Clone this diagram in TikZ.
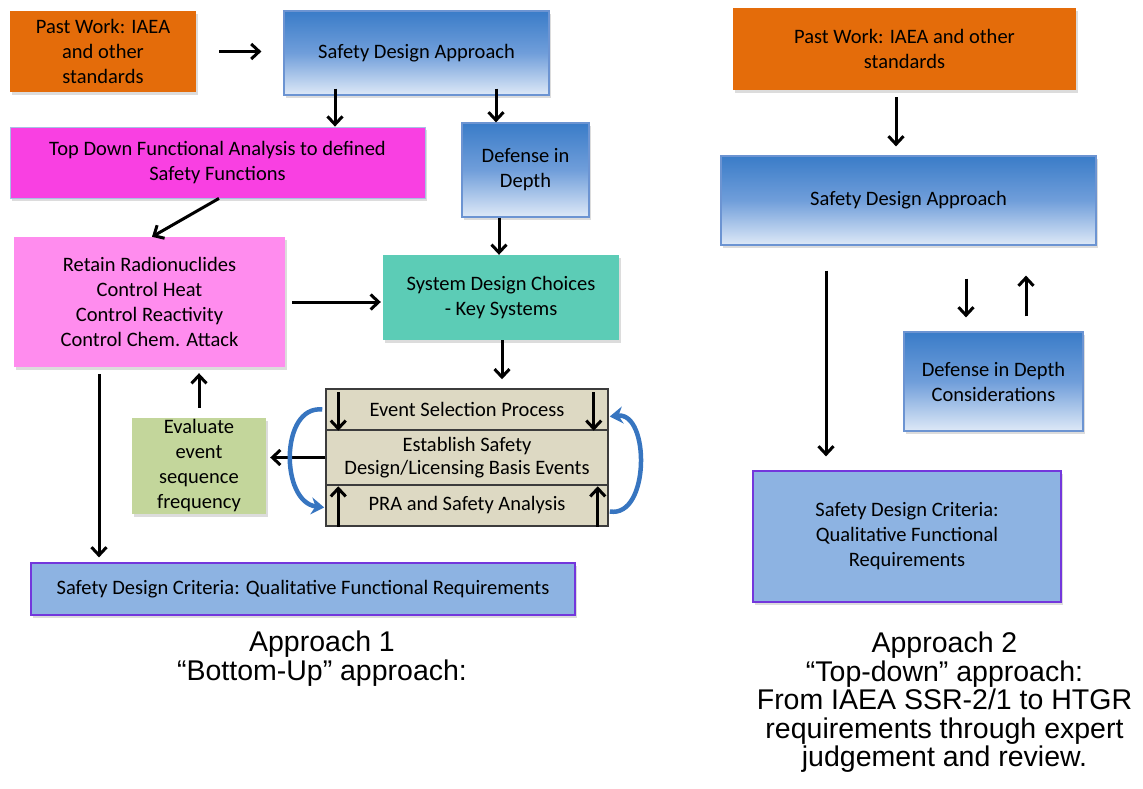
\documentclass[tikz,border=0pt]{standalone}
\usepackage{fontspec}
\setmainfont{Carlito}
\newfontfamily\capfont{Liberation Sans}
\usetikzlibrary{arrows.meta,calc,positioning,shadows}
\definecolor{pastor}{RGB}{228,108,10}
\definecolor{sdadark}{RGB}{58,124,200}
\definecolor{sdamid}{RGB}{112,158,218}
\definecolor{sdalight}{RGB}{222,233,247}
\definecolor{sdaedge}{RGB}{108,148,210}
\definecolor{tdmag}{RGB}{249,64,226}
\definecolor{retpink}{RGB}{255,140,238}
\definecolor{systeal}{RGB}{92,204,182}
\definecolor{evtan}{RGB}{221,217,195}
\definecolor{evedge}{RGB}{60,60,60}
\definecolor{evgreen}{RGB}{195,214,155}
\definecolor{critblue}{RGB}{141,179,226}
\definecolor{critedge}{RGB}{115,55,220}
\definecolor{cycblue}{RGB}{55,117,192}
\tikzset{
  box/.style={align=center,inner sep=0pt,font=\fontsize{20.5}{25}\selectfont,
    drop shadow={opacity=0.28,shadow xshift=2pt,shadow yshift=-3pt}},
  flat/.style={box,fill=#1},
  grad/.style={box,top color=sdadark,bottom color=sdalight,middle color=sdamid,
    draw=sdaedge,line width=1.2pt},
  crit/.style={box,fill=critblue,draw=critedge,line width=1.2pt},
  evrow/.style={align=center,inner sep=0pt,font=\fontsize{20.5}{23}\selectfont,
    fill=evtan,draw=evedge,line width=1.5pt,minimum width=282pt},
  arr/.style={line width=3pt,-{Straight Barb[length=8pt,width=15pt]}},
  cycarrow/.style={cycblue,line width=4.5pt,-{Stealth[length=13pt,width=17pt]}},
  caption/.style={align=center,inner sep=0pt,font=\capfont\fontsize{28.5}{28.5}\selectfont},
}
\begin{document}
\begin{tikzpicture}[x=1pt,y=-1pt]
    \useasboundingbox (0,0) rectangle (1143,789);
    % ---------- left: approach 1, bottom-up ----------
    \node[flat=pastor,minimum width=186,minimum height=81] (past1) at (103,51.5)
      {Past Work: IAEA\\and other\\standards};
    \node[grad,minimum width=265,minimum height=84] (sda1) at (416.5,53) {Safety Design Approach};
    \node[flat=tdmag,draw=sdaedge!60,line width=0.8pt,minimum width=415,minimum height=71] (tdfa) at (217.5,162.5)
      {Top Down Functional Analysis to defined\\Safety Functions};
    \node[grad,minimum width=127,minimum height=94] (did1) at (525.5,170) {Defense in\\Depth};
    \node[flat=retpink,minimum width=271,minimum height=130] (retain) at (149.5,302)
      {Retain Radionuclides\\Control Heat\\Control Reactivity\\Control Chem. Attack};
    \node[flat=systeal,minimum width=236,minimum height=85] (sdc) at (501,297.5)
      {System Design Choices\\- Key Systems};
    \node[flat=evgreen,minimum width=134,minimum height=96] (eval) at (199,466)
      {Evaluate\\event\\sequence\\frequency};
    % event box: three stacked rows
    \node[evrow,minimum height=41] (ev1) at (467,409.5) {Event Selection Process};
    \node[evrow,minimum height=55] (ev2) at (467,457.5) {Establish Safety\\Design/Licensing Basis Events};
    \node[evrow,minimum height=41] (ev3) at (467,505.5) {PRA and Safety Analysis};
    \node[crit,minimum width=544,minimum height=52] (crit1) at (303,589)
      {Safety Design Criteria: Qualitative Functional Requirements};
    \node[caption,anchor=north] (cap1) at (322,631) {Approach 1\\“Bottom-Up” approach:};
    % connectors
    \draw[arr,shorten <=23pt,shorten >=22pt] (past1.east) -- (past1.east -| sda1.west);
    \draw[arr,shorten <=-7pt] (sda1.south -| 335,0) -- (tdfa.north -| 335,0);
    \draw[arr,shorten <=-7pt] (sda1.south -| 496,0) -- (did1.north -| 496,0);
    \draw[arr] (tdfa.south -| 219,0) -- (retain.north -| 152,0);
    \draw[arr] (did1.south -| 499,0) -- (sdc.north -| 499,0);
    \draw[arr,shorten <=7pt,shorten >=2pt] (retain.east) -- (retain.east -| sdc.west);
    \draw[arr,shorten >=9pt] (sdc.south -| 502,0) -- (ev1.north -| 502,0);
    \draw[arr,shorten >=4pt] (ev2.west) -- (ev2.west -| eval.east);
    \draw[arr,shorten <=10pt,shorten >=6pt] (eval.north) -- (eval.north |- retain.south);
    \draw[arr,shorten <=7pt,shorten >=5pt] (retain.south -| 99,0) -- (crit1.north -| 99,0);
    % small arrows inside the event box
    \draw[arr] ($(ev1.north west)+(13,4)$) -- ($(ev1.south west)+(13,0)$);
    \draw[arr] ($(ev1.north east)+(-15,4)$) -- ($(ev1.south east)+(-15,0)$);
    \draw[arr] ($(ev3.south west)+(13,0)$) -- ($(ev3.north west)+(13,2)$);
    \draw[arr] ($(ev3.south east)+(-11,0)$) -- ($(ev3.north east)+(-11,2)$);
    % iteration loops round the event box
    \draw[cycarrow] ($(ev1.west)+(-3,0)$) .. controls (280,405) and (280,502) .. ($(ev3.west)+(-1,2)$);
    \draw[cycarrow] ($(ev3.east)+(1,6)$) .. controls (650,518) and (650,412) .. ($(ev1.east)+(1,7)$);
    % ---------- right: approach 2, top-down ----------
    \node[flat=pastor,minimum width=343,minimum height=82] (past2) at (904.5,49)
      {Past Work: IAEA and other\\standards};
    \node[grad,minimum width=375,minimum height=89] (sda2) at (908.5,200.5) {Safety Design Approach};
    \node[grad,minimum width=179,minimum height=99] (did2) at (993.5,381.5) {Defense in Depth\\Considerations};
    \node[crit,minimum width=308,minimum height=131] (crit2) at (907,536.5)
      {Safety Design Criteria:\\Qualitative Functional\\Requirements};
    \node[caption,anchor=north] (cap2) at (944.5,632)
      {Approach 2\\“Top-down” approach:\\From IAEA SSR-2/1 to HTGR\\requirements through expert\\judgement and review.};
    \draw[arr,shorten <=7pt,shorten >=9pt] (past2.south -| 896,0) -- (sda2.north -| 896,0);
    \draw[arr,shorten <=25pt,shorten >=14pt] (sda2.south -| 826,0) -- (crit2.north -| 826,0);
    \draw[arr,shorten <=33pt,shorten >=14pt] (sda2.south -| 966,0) -- (did2.north -| 966,0);
    \draw[arr,shorten <=15pt,shorten >=30pt] (did2.north -| 1026,0) -- (sda2.south -| 1026,0);
\end{tikzpicture}
\end{document}
